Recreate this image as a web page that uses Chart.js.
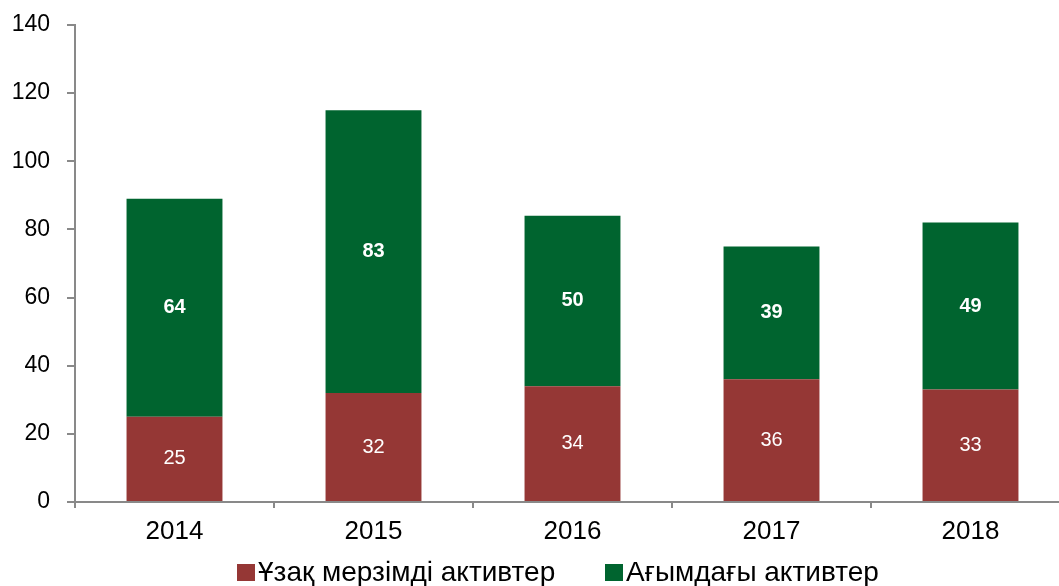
<!DOCTYPE html>
<html>
<head>
<meta charset="utf-8">
<script src="https://cdn.jsdelivr.net/npm/chart.js@4"></script>
<style>
  html, body { margin: 0; padding: 0; background: #fff; overflow: hidden; }
  .wrap { position: relative; width: 1072px; height: 586px; }
  .legend { position: absolute; top: 556px; left: 0; width: 1059px; height: 32px;
            font-family: "Liberation Sans", Arial, sans-serif; font-size: 28px; color: #000; }
  .legend .item { position: absolute; top: 0; white-space: nowrap; line-height: 32px;
                  display: flex; align-items: center; }
  .legend i { display: inline-block; width: 18px; height: 17px; margin-right: 3px; }
</style>
</head>
<body>
<div class="wrap">
  <canvas id="chart" width="1072" height="586"></canvas>
  <div class="legend" id="legend"></div>
</div>
<script>
// данные
const years = ['2014', '2015', '2016', '2017', '2018'];
const longTerm = [25, 32, 34, 36, 33];
const current = [64, 83, 50, 39, 49];
const seriesNames = ['Ұзақ мерзімді активтер', 'Ағымдағы активтер'];
const seriesColors = ['#953735', '#00642F'];
const yTicks = [0, 20, 40, 60, 80, 100, 120, 140];

const font = '"Liberation Sans", Arial, sans-serif';
const axisColor = '#898989';

// подписи внутри столбиков
const barLabels = {
    id: 'barLabels',
    afterDatasetsDraw(chart) {
        const ctx = chart.ctx;
        ctx.save();
        chart.data.datasets.forEach(function(ds, i) {
            const meta = chart.getDatasetMeta(i);
            ctx.font = (i === 1 ? 'bold ' : '') + '20px ' + font;
            ctx.fillStyle = '#ffffff';
            ctx.textAlign = 'center';
            ctx.textBaseline = 'middle';
            meta.data.forEach(function(bar, j) {
                ctx.fillText(ds.data[j], bar.x, (bar.y + bar.base) / 2);
            });
        });
        ctx.restore();
    }
};

const chart = new Chart(document.getElementById('chart'), {
    type: 'bar',
    data: {
        labels: years,
        datasets: [
            { label: seriesNames[0], data: longTerm, backgroundColor: seriesColors[0] },
            { label: seriesNames[1], data: current, backgroundColor: seriesColors[1] }
        ]
    },
    options: {
        responsive: false,
        animation: false,
        devicePixelRatio: 1,
        layout: { padding: { top: 25, right: 2, bottom: 0, left: 0 } },
        datasets: { bar: { categoryPercentage: 1, barPercentage: 0.482 } },
        plugins: { legend: { display: false }, tooltip: { enabled: false } },
        scales: {
            x: {
                stacked: true,
                grid: { offset: true, drawOnChartArea: false, color: axisColor, lineWidth: 2, tickLength: 6 },
                border: { color: axisColor, width: 2 },
                ticks: { color: '#000', font: { family: font, size: 26 }, padding: 8 },
                afterFit(scale) { scale.height = 84; }
            },
            y: {
                stacked: true,
                min: 0,
                max: 140,
                afterBuildTicks(scale) { scale.ticks = yTicks.map(v => ({ value: v })); },
                grid: { drawOnChartArea: false, color: axisColor, lineWidth: 2, tickLength: 8 },
                border: { color: axisColor, width: 2 },
                ticks: { color: '#000', font: { family: font, size: 23 }, padding: 17 },
                afterFit(scale) {
                    scale.width = 75;
                    scale.paddingTop = 0;
                    scale.paddingBottom = 0;
                }
            }
        }
    },
    plugins: [barLabels]
});

// легенда
const legendPos = [237, 605];
const legend = document.getElementById('legend');
seriesNames.forEach(function(name, i) {
    const item = document.createElement('span');
    item.className = 'item';
    item.style.left = legendPos[i] + 'px';
    item.innerHTML = '<i style="background:' + seriesColors[i] + '"></i>' + name;
    legend.appendChild(item);
});
</script>
</body>
</html>
